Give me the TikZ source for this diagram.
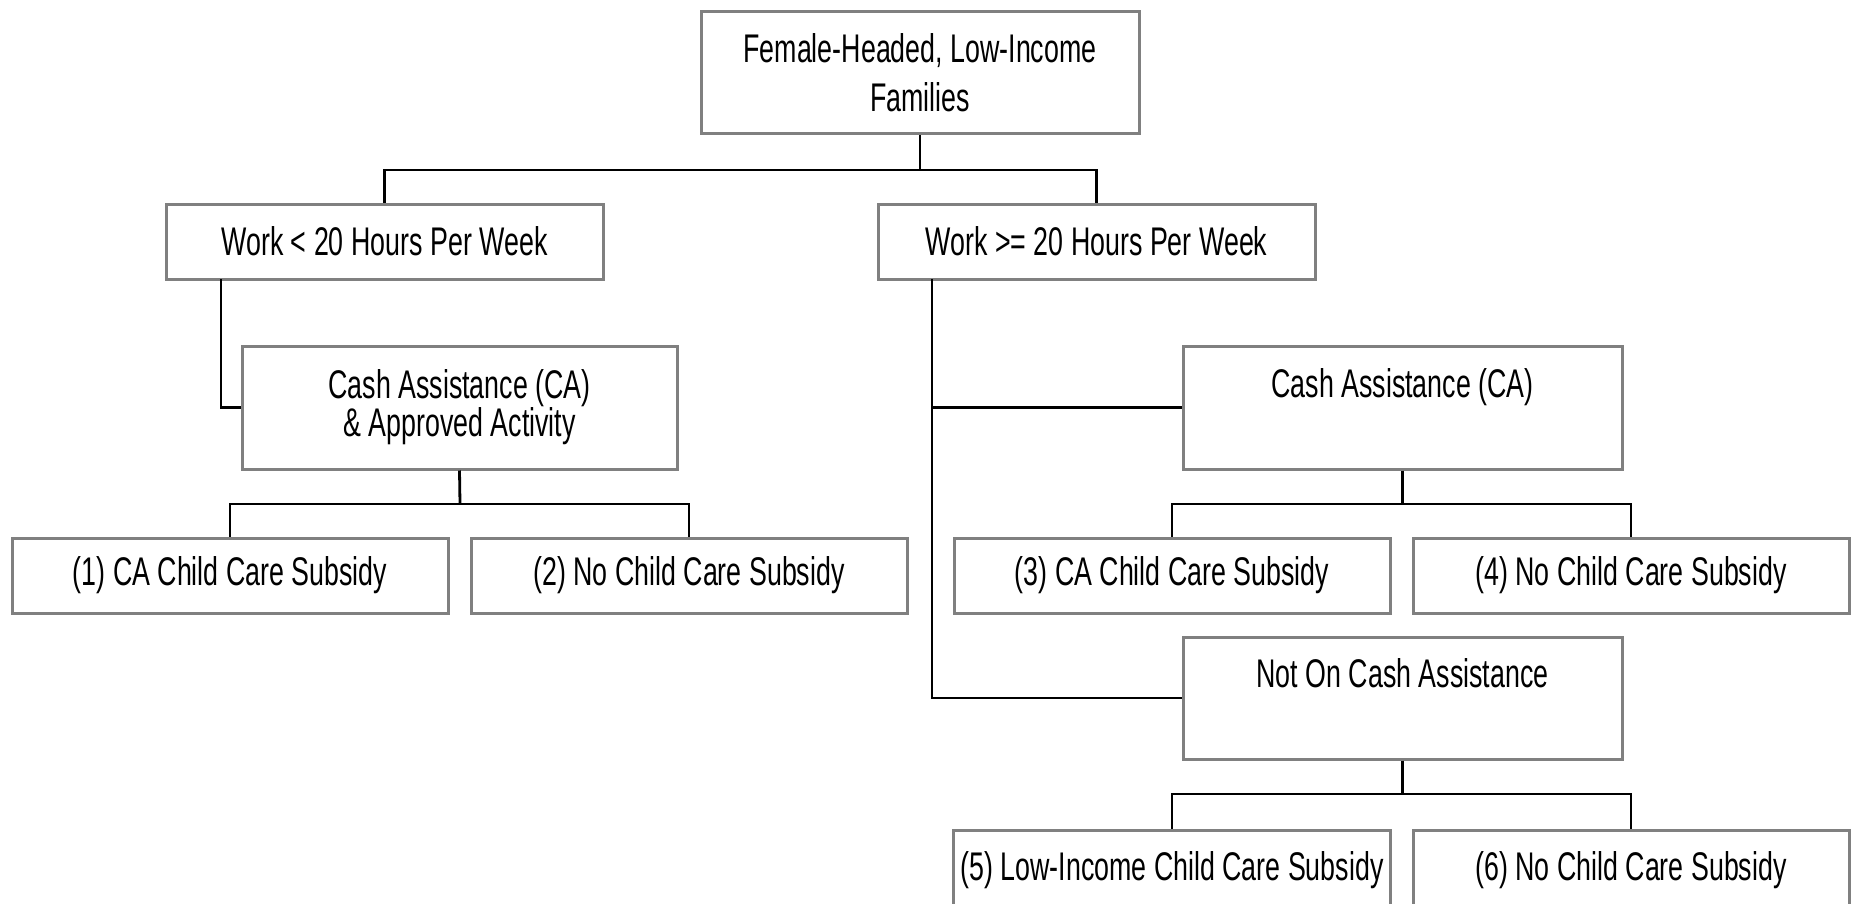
\documentclass[tikz,border=0pt]{standalone}
\usepackage{fontspec}
\setmainfont{Liberation Sans}[FakeStretch=0.67]
\definecolor{boxgray}{HTML}{808080}
\begin{document}
\begin{tikzpicture}[x=1pt,y=-1pt,
  box/.style={draw=boxgray, line width=3pt, fill=white, rectangle, align=center,
    inner sep=0pt, font=\fontsize{40}{38}\selectfont},
  conn/.style={draw=black, line width=2.8pt}]
\useasboundingbox (0,0) rectangle (1860,903);
\clip (0,0) rectangle (1860,903);
% nodes
\node[box, minimum width=438pt, minimum height=122pt, font=\fontsize{40}{49}\selectfont] (top) at (920,72.5) {Female-Headed, Low-Income\\Families};
\node[box, minimum width=437pt, minimum height=75pt] (A) at (384.5,241.5) {Work < 20 Hours Per Week};
\node[box, minimum width=437pt, minimum height=75pt] (B) at (1096.5,241.5) {Work >= 20 Hours Per Week};
\node[box, minimum width=435pt, minimum height=123pt] (C) at (459.5,407.5) {Cash Assistance (CA)\\\& Approved Activity};
\node[box, minimum width=439pt, minimum height=123pt] (D) at (1402.5,407.5) {Cash Assistance (CA)\\\strut};
\node[box, minimum width=439pt, minimum height=122pt] (E) at (1402.5,698) {Not On Cash Assistance\\\strut};
\node[box, minimum width=436pt, minimum height=75pt] (L1) at (230,575.5) {(1) CA Child Care Subsidy};
\node[box, minimum width=436pt, minimum height=75pt] (L2) at (689,575.5) {(2) No Child Care Subsidy};
\node[box, minimum width=436pt, minimum height=75pt] (L3) at (1172,575.5) {(3) CA Child Care Subsidy};
\node[box, minimum width=436pt, minimum height=75pt] (L4) at (1631,575.5) {(4) No Child Care Subsidy};
\node[box, minimum width=437pt, minimum height=80pt] (L5) at (1172,870) {(5) Low-Income Child Care Subsidy};
\node[box, minimum width=436pt, minimum height=80pt] (L6) at (1631,870) {(6) No Child Care Subsidy};
% junction coordinates
\coordinate (j0) at (920,170);
\coordinate (j1) at (460,504);
\coordinate (j2) at (1402.5,504);
\coordinate (j3) at (1402.5,794);
\coordinate (ja) at (221,279);
\coordinate (jb) at (932,279);
% connectors
\draw[conn] (top.south) -- (j0);
\draw[conn] (A.north) -- (A.north |- j0) -- (B.north |- j0) -- (B.north);
\draw[conn] (ja) |- (C.west);
\draw[conn] (C.south) -- (j1);
\draw[conn] (L1.north) -- (L1.north |- j1) -- (L2.north |- j1) -- (L2.north);
\draw[conn] (jb) |- (E.west);
\draw[conn] (D.west) -- (D.west -| jb);
\draw[conn] (D.south) -- (j2);
\draw[conn] (L3.north) -- (L3.north |- j2) -- (L4.north |- j2) -- (L4.north);
\draw[conn] (E.south) -- (j3);
\draw[conn] (L5.north) -- (L5.north |- j3) -- (L6.north |- j3) -- (L6.north);
\end{tikzpicture}
\end{document}
